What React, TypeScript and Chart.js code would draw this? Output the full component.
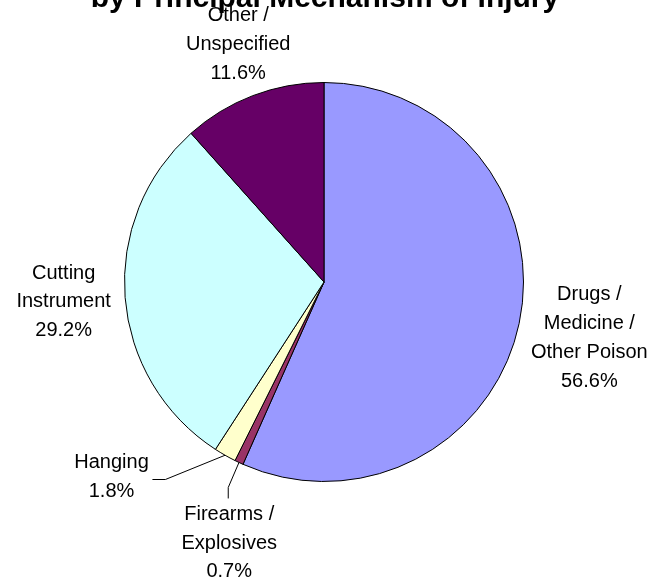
import React, { useEffect, useRef } from "react";
import { Chart, registerables } from "chart.js";

Chart.register(...registerables);

const titleText = "by Principal Mechanism of Injury";
const categories = [
  ["Drugs /", "Medicine /", "Other Poison"],
  ["Firearms /", "Explosives"],
  ["Hanging"],
  ["Cutting", "Instrument"],
  ["Other /", "Unspecified"],
];
const values = [56.6, 0.7, 1.8, 29.2, 11.6];
const colors = ["#9999FF", "#993366", "#FFFFCC", "#CCFFFF", "#660066"];

// label placement relative to pie centre, in units of radius (first line centre)
const labelPos = [
  { x: 1.33, y: 0.065, leader: null },
  { x: -0.475, y: 1.165, leader: [[-0.48, 1.03], [-0.48, 1.085]] },
  { x: -1.065, y: 0.905, leader: [[-0.795, 0.99], [-0.86, 0.99]] },
  { x: -1.305, y: -0.045, leader: null },
  { x: -0.43, y: -1.335, leader: null },
];

const FONT = "Arial, 'Liberation Sans', sans-serif";

const labelPlugin = {
  id: "pieLabels",
  afterDraw(chart: any) {
    const ctx = chart.ctx;
    const meta = chart.getDatasetMeta(0);
    ctx.save();
    // title (partially cut off at the top)
    ctx.fillStyle = "#000";
    ctx.font = `bold 30px ${FONT}`;
    ctx.textAlign = "center";
    ctx.textBaseline = "alphabetic";
    ctx.fillText(titleText, 325, 7);

    ctx.font = `20px ${FONT}`;
    ctx.textBaseline = "middle";
    meta.data.forEach((arc: any, i: number) => {
      const { x: cx, y: cy, outerRadius: r, startAngle, endAngle } = arc.getProps(
        ["x", "y", "outerRadius", "startAngle", "endAngle"],
        true
      );
      const pos = labelPos[i];
      const lx = cx + pos.x * r;
      const ly = cy + pos.y * r;
      const lines = [...categories[i], values[i].toFixed(1) + "%"];
      lines.forEach((t, k) => ctx.fillText(t, lx, ly + k * 28.7));
      if (pos.leader) {
        const mid = (startAngle + endAngle) / 2;
        ctx.beginPath();
        ctx.strokeStyle = "#000";
        ctx.lineWidth = 1;
        ctx.moveTo(cx + Math.cos(mid) * r, cy + Math.sin(mid) * r);
        pos.leader.forEach((p: number[]) => ctx.lineTo(cx + p[0] * r, cy + p[1] * r));
        ctx.stroke();
      }
    });
    ctx.restore();
  },
};

export default function App() {
  const ref = useRef<HTMLCanvasElement>(null);
  useEffect(() => {
    const chart = new Chart(ref.current!, {
      type: "pie",
      data: {
        labels: categories.map((c) => c.join(" ")),
        datasets: [
          {
            data: values,
            backgroundColor: colors,
            borderColor: "#000",
            borderWidth: 1,
          },
        ],
      },
      options: {
        responsive: false,
        animation: false,
        layout: { padding: { left: 124, right: 133, top: 82, bottom: 105 } },
        plugins: {
          legend: { display: false },
          tooltip: { enabled: false },
          title: { display: false },
        },
      },
      plugins: [labelPlugin],
    });
    return () => chart.destroy();
  }, []);
  return (
    <div style={{ position: "absolute", left: 0, top: 0, width: 657, height: 587, background: "#fff" }}>
      <canvas ref={ref} width={657} height={587} style={{ width: 657, height: 587 }} />
    </div>
  );
}
